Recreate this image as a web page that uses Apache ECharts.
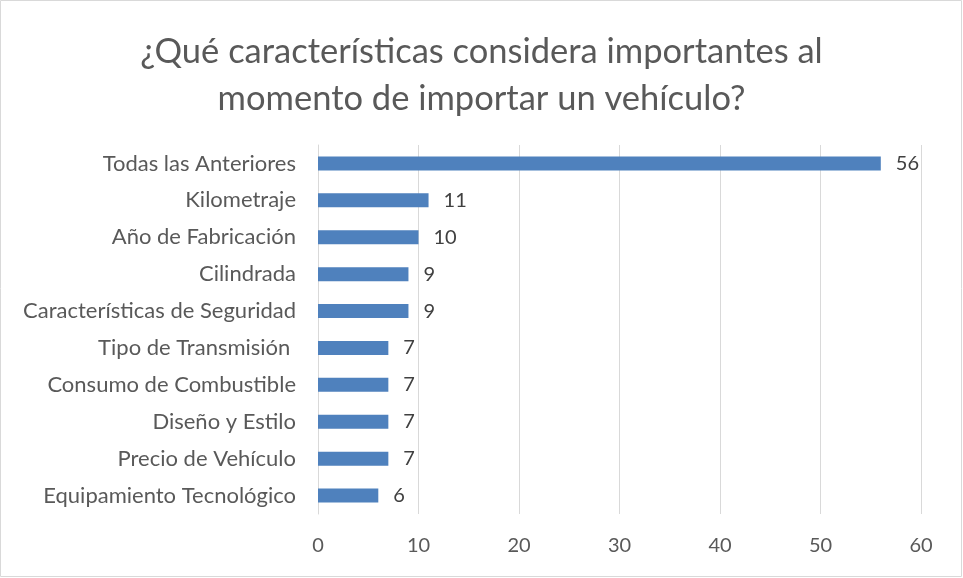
<!DOCTYPE html>
<html><head><meta charset="utf-8">
<script src="https://cdn.jsdelivr.net/npm/echarts@6/dist/echarts.min.js"></script>
<style>html,body{margin:0;padding:0;background:#fff}#c{width:963px;height:578px}</style>
</head><body><div id="c"></div>
<script>
const categories = ["Equipamiento Tecnológico","Precio de Vehículo","Diseño y Estilo","Consumo de Combustible","Tipo de Transmisión ","Características de Seguridad","Cilindrada","Año de Fabricación","Kilometraje","Todas las Anteriores"];
const values = [6,7,7,7,7,9,9,10,11,56];
const xTicks = [0,10,20,30,40,50,60];
const titleText = "¿Qué características considera importantes al\nmomento de importar un vehículo?";
const font = "Lato, sans-serif";
const chart = echarts.init(document.getElementById('c'));
chart.setOption({
  animation:false,
  title:{text:titleText,left:'center',top:23,textStyle:{fontFamily:font,fontSize:34.5,fontWeight:'normal',color:'#595959',lineHeight:47}},
  graphic:[{type:'rect',shape:{x:0.5,y:0.5,width:961,height:576},style:{fill:null,stroke:'#d9d9d9',lineWidth:1}}],
  grid:{left:318,right:42,top:145,bottom:64,containLabel:false},
  xAxis:{type:'value',min:xTicks[0],max:xTicks[xTicks.length-1],interval:10,
    axisLine:{show:false},axisTick:{show:false},
    axisLabel:{fontFamily:font,fontSize:20,color:'#595959',margin:22},
    splitLine:{lineStyle:{color:'#d9d9d9',width:1}}},
  yAxis:{type:'category',data:categories,
    axisLine:{show:true,lineStyle:{color:'#d9d9d9'}},axisTick:{show:false},
    axisLabel:{fontFamily:font,fontSize:22,color:'#595959',margin:22}},
  series:[{type:'bar',data:values,barWidth:14,
    itemStyle:{color:'#4f81bd'},
    label:{show:true,position:'right',distance:15,fontFamily:font,fontSize:20,color:'#404040'}}]
});
</script></body></html>
